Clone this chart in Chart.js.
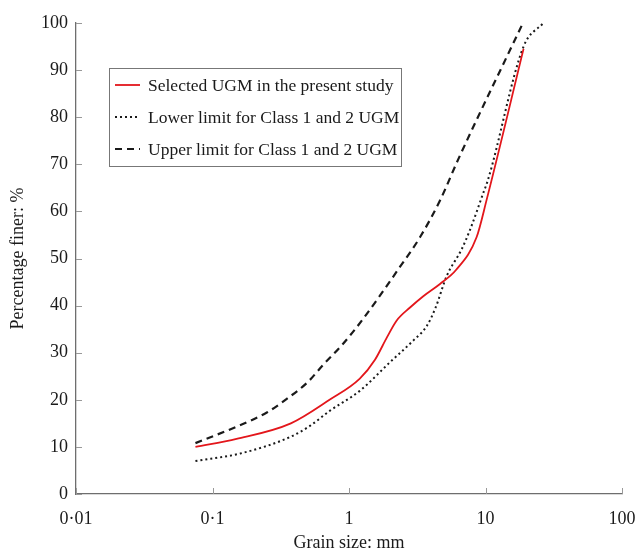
<!DOCTYPE html>
<html>
<head>
<meta charset="utf-8">
<script src="https://cdn.jsdelivr.net/npm/chart.js@4"></script>
<style>
  html, body { margin: 0; padding: 0; background: #fff; }
  canvas { display: block; }
</style>
</head>
<body>
<canvas id="c" width="639" height="552"></canvas>
<script>
// ---- data ----
const seriesLabels = [
  "Selected UGM in the present study",
  "Lower limit for Class 1 and 2 UGM",
  "Upper limit for Class 1 and 2 UGM"
];
const selectedSize = [0.075, 0.15, 0.375, 0.72, 1.2, 1.55, 1.9, 2.23, 2.8, 3.5, 4.64, 6.1, 8.6, 10.2, 19];
const selectedPct  = [10, 11.7, 15, 20, 24.5, 28.5, 33.3, 36.8, 39.6, 42, 44.6, 47.6, 54.5, 62.5, 94.5];
const lowerSize = [0.075, 0.16, 0.37, 0.52, 0.726, 1.2, 2.0, 2.96, 3.7, 4.3, 5.2, 6.7, 7.8, 9.6, 10.4, 19, 26.5];
const lowerPct  = [7, 8.6, 12.1, 14.5, 17.7, 21.9, 28, 32.6, 35.6, 39.5, 46.3, 52, 56.5, 63.8, 66.6, 95, 100];
const upperSize = [0.075, 0.15, 0.25, 0.35, 0.5, 0.65, 0.88, 1.24, 2.36, 3.31, 4.64, 6.3, 18.8];
const upperPct  = [10.8, 14.3, 17.3, 20.2, 23.8, 27.5, 31.5, 36.8, 48.2, 54.5, 62.3, 71, 100];
const xTickValues = [0.01, 0.1, 1, 10, 100];
const xTickLabels = ["0\u00b701", "0\u00b71", "1", "10", "100"];
const yTickLabels = ["0", "10", "20", "30", "40", "50", "60", "70", "80", "90", "100"];
const xTitle = "Grain size: mm";
const yTitle = "Percentage finer: %";

const toPts = (xs, ys) => xs.map((x, i) => ({ x: x, y: ys[i] }));
const SERIF = "'Liberation Serif', 'Times New Roman', Times, serif";
const AXIS_COLOR = '#6e6e6e';

// inward tick marks
const innerTicks = {
  id: 'innerTicks',
  afterDatasetsDraw(chart) {
    const { ctx, scales: { x, y } } = chart;
    ctx.save();
    ctx.strokeStyle = '#999';
    ctx.lineWidth = 1;
    y.ticks.forEach(t => {
      const py = Math.round(y.getPixelForValue(t.value)) + 0.5;
      ctx.beginPath(); ctx.moveTo(x.left, py); ctx.lineTo(x.left + 6, py); ctx.stroke();
    });
    x.ticks.forEach(t => {
      const px = Math.round(x.getPixelForValue(t.value)) + 0.5;
      ctx.beginPath(); ctx.moveTo(px, y.bottom); ctx.lineTo(px, y.bottom - 6); ctx.stroke();
    });
    ctx.restore();
  }
};

// boxed legend inside the plot
const boxLegend = {
  id: 'boxLegend',
  afterDraw(chart) {
    const ctx = chart.ctx;
    const bx = 109, by = 68, bw = 292, bh = 98;
    ctx.save();
    ctx.fillStyle = '#fff';
    ctx.fillRect(bx, by, bw, bh);
    ctx.strokeStyle = '#777';
    ctx.lineWidth = 1;
    ctx.strokeRect(bx + 0.5, by + 0.5, bw, bh);
    const rows = [85, 117, 149];
    chart.data.datasets.forEach((ds, i) => {
      const yy = rows[i];
      ctx.strokeStyle = ds.borderColor;
      ctx.lineWidth = ds.borderWidth;
      ctx.setLineDash(ds.borderDash || []);
      ctx.beginPath(); ctx.moveTo(115, yy); ctx.lineTo(140, yy); ctx.stroke();
      ctx.setLineDash([]);
      ctx.fillStyle = '#1a1a1a';
      ctx.font = '17.5px ' + SERIF;
      ctx.textBaseline = 'middle';
      ctx.textAlign = 'left';
      ctx.fillText(ds.label, 148, yy + 1);
    });
    ctx.restore();
  }
};

new Chart(document.getElementById('c'), {
  type: 'line',
  data: {
    datasets: [
      { label: seriesLabels[0], data: toPts(selectedSize, selectedPct),
        borderColor: '#e3161b', borderWidth: 1.8, pointRadius: 0, fill: false,
        cubicInterpolationMode: 'monotone' },
      { label: seriesLabels[1], data: toPts(lowerSize, lowerPct),
        borderColor: '#1a1a1a', borderWidth: 2, borderDash: [2, 3], pointRadius: 0, fill: false,
        cubicInterpolationMode: 'monotone' },
      { label: seriesLabels[2], data: toPts(upperSize, upperPct),
        borderColor: '#1a1a1a', borderWidth: 2.2, borderDash: [7, 5], pointRadius: 0, fill: false,
        cubicInterpolationMode: 'monotone' }
    ]
  },
  options: {
    responsive: false,
    devicePixelRatio: 1,
    animation: false,
    layout: { padding: { top: 23, right: 17, left: 0, bottom: 0 } },
    plugins: { legend: { display: false }, tooltip: { enabled: false } },
    scales: {
      x: {
        type: 'logarithmic', min: 0.01, max: 100,
        afterBuildTicks: s => { s.ticks = xTickValues.map(v => ({ value: v, major: true })); },
        afterFit: s => { s.height = 58; s.paddingLeft = 0; s.paddingRight = 0; },
        grid: { display: false, drawTicks: false },
        border: { display: true, color: AXIS_COLOR, width: 1.3 },
        ticks: { autoSkip: false, maxRotation: 0, padding: 14, color: '#1a1a1a',
          font: { family: SERIF, size: 18 },
          callback: (v, i) => xTickLabels[i] },
        title: { display: true, text: xTitle, color: '#1a1a1a',
          font: { family: SERIF, size: 18, lineHeight: 1 }, padding: { top: 0, bottom: 0 } }
      },
      y: {
        min: 0, max: 100,
        afterBuildTicks: s => { s.ticks = yTickLabels.map((_, i) => ({ value: i * 10 })); },
        afterFit: s => { s.width = 76; s.paddingTop = 0; s.paddingBottom = 0; },
        grid: { display: false, drawTicks: false },
        border: { display: true, color: AXIS_COLOR, width: 1.3 },
        ticks: { padding: 8, color: '#1a1a1a', font: { family: SERIF, size: 18 },
          callback: (v, i) => yTickLabels[i] },
        title: { display: true, text: yTitle, color: '#1a1a1a',
          font: { family: SERIF, size: 18 }, padding: { top: 7, bottom: 0 } }
      }
    }
  },
  plugins: [innerTicks, boxLegend]
});
</script>
</body>
</html>
